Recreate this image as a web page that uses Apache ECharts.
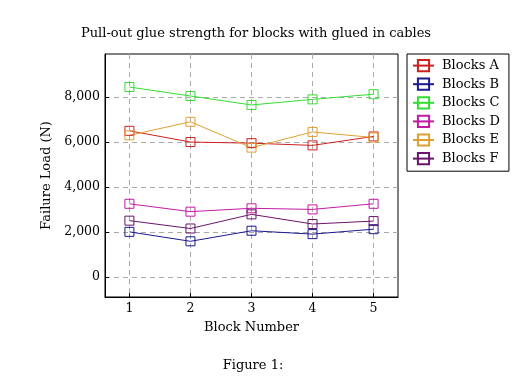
<!DOCTYPE html>
<html><head><meta charset="utf-8">
<script src="https://cdn.jsdelivr.net/npm/echarts@6/dist/echarts.min.js"></script>
<style>html,body{margin:0;padding:0;background:#fff}#c{width:522px;height:385px}</style>
</head><body><div id="c"></div>
<script>
const blockNumbers = [1, 2, 3, 4, 5];
const seriesNames = ['Blocks A', 'Blocks B', 'Blocks C', 'Blocks D', 'Blocks E', 'Blocks F'];
const blocksA = [6500, 6000, 5950, 5850, 6250];
const blocksB = [2000, 1580, 2050, 1900, 2120];
const blocksC = [8450, 8050, 7650, 7900, 8130];
const blocksD = [3250, 2900, 3050, 3000, 3250];
const blocksE = [6300, 6900, 5750, 6450, 6200];
const blocksF = [2500, 2150, 2780, 2350, 2480];
const yTicks = [0, 2000, 4000, 6000, 8000];
const colors = ['#cc1f1f', '#1a1a8c', '#33dd33', '#c21aa6', '#e0a030', '#6a156a'];
const allValues = [blocksA, blocksB, blocksC, blocksD, blocksE, blocksF];

const font = 'DejaVu Serif';
const chart = echarts.init(document.getElementById('c'));
chart.setOption({
  animation: false,
  textStyle: { fontFamily: font, color: '#000' },
  title: [
    { text: 'Pull-out glue strength for blocks with glued in cables', left: 251, top: 22, textAlign: 'center',
      textStyle: { fontFamily: font, fontSize: 13, fontWeight: 'normal', color: '#000' } },
    { text: 'Figure 1:', left: 248, top: 354, textAlign: 'center',
      textStyle: { fontFamily: font, fontSize: 13, fontWeight: 'normal', color: '#000' } }
  ],
  legend: {
    orient: 'vertical', left: 407, top: 54,
    padding: [5, 9, 6, 5], itemGap: 5.4, itemWidth: 21, itemHeight: 14,
    borderColor: '#000', borderWidth: 1,
    textStyle: { fontFamily: font, fontSize: 13, color: '#000', padding: [0, 0, 0, 3] },
    data: seriesNames
  },
  grid: { left: 105, top: 54, width: 293, height: 243, show: true, borderColor: '#000', borderWidth: 1, containLabel: false },
  xAxis: {
    type: 'value', min: 0.6, max: 5.4,
    name: 'Block Number', nameLocation: 'middle', nameGap: 24,
    nameTextStyle: { fontFamily: font, fontSize: 13, color: '#000' },
    axisLine: { show: true, onZero: false, lineStyle: { color: '#000' } },
    axisTick: { show: true, inside: true, length: 4, customValues: blockNumbers, lineStyle: { color: '#000' } },
    axisLabel: { customValues: blockNumbers, fontFamily: font, fontSize: 12.5, color: '#000', margin: 5 },
    splitLine: { show: true, lineStyle: { color: '#aaa', type: [5, 4] } }
  },
  yAxis: {
    type: 'value', min: -900, max: 9920,
    name: 'Failure Load (N)', nameLocation: 'middle', nameGap: 51,
    nameTextStyle: { fontFamily: font, fontSize: 13, color: '#000' },
    axisLine: { show: true, onZero: false, lineStyle: { color: '#000' } },
    axisTick: { show: true, inside: true, length: 4, customValues: yTicks, lineStyle: { color: '#000' } },
    axisLabel: { customValues: yTicks, fontFamily: font, fontSize: 12.5, color: '#000', margin: 5,
      formatter: v => v.toLocaleString('en-US') },
    splitLine: { show: true, lineStyle: { color: '#aaa', type: [5, 4] } }
  },
  series: seriesNames.map((n, i) => ({
    name: n, type: 'line',
    data: blockNumbers.map((x, j) => [x, allValues[i][j]]),
    symbol: 'rect', symbolSize: 9,
    lineStyle: { color: colors[i], width: 1 },
    itemStyle: { color: 'rgba(0,0,0,0)', borderColor: colors[i], borderWidth: 1 },
    emphasis: { disabled: true }
  }))
});
</script></body></html>
